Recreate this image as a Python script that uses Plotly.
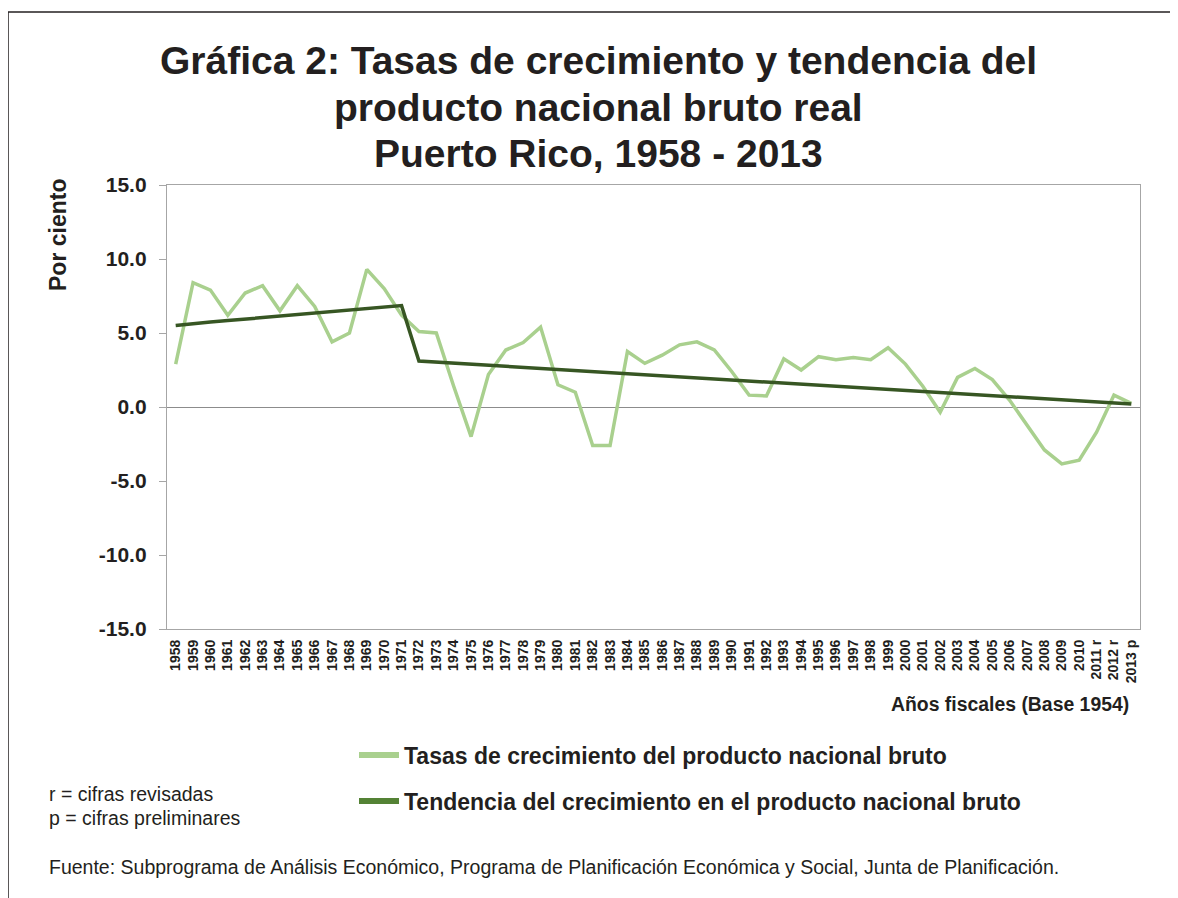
import plotly.graph_objects as go

# ---------------- data ----------------
years = [str(y) for y in range(1958, 2011)] + ["2011 r", "2012 r", "2013 p"]

growth = [2.9, 8.4, 7.9, 6.2, 7.7, 8.2, 6.5, 8.2, 6.8, 4.4,
          5.0, 9.3, 8.0, 6.2, 5.1, 5.0, 1.4, -2.0, 2.2, 3.85,
          4.35, 5.4, 1.5, 1.0, -2.6, -2.6, 3.75, 2.95, 3.5, 4.2,
          4.4, 3.85, 2.4, 0.8, 0.75, 3.25, 2.5, 3.4, 3.2, 3.35,
          3.2, 4.0, 2.9, 1.4, -0.35, 2.0, 2.6, 1.85, 0.45, -1.2,
          -2.9, -3.85, -3.6, -1.7, 0.8, 0.25]

trend = [5.50, 5.65, 5.75, 5.84, 5.94, 6.04, 6.14, 6.24, 6.34, 6.44,
         6.54, 6.64, 6.74, 6.85, 3.10, 3.03, 2.96, 2.89, 2.82, 2.75,
         2.68, 2.60, 2.53, 2.46, 2.39, 2.32, 2.25, 2.18, 2.11, 2.04,
         1.97, 1.90, 1.83, 1.76, 1.69, 1.62, 1.55, 1.48, 1.40, 1.33,
         1.26, 1.19, 1.12, 1.05, 0.98, 0.91, 0.84, 0.77, 0.70, 0.63,
         0.56, 0.49, 0.42, 0.35, 0.28, 0.20]

y_ticks = [-15, -10, -5, 0, 5, 10, 15]
y_tick_labels = ["-15.0", "-10.0", "-5.0", "0.0", "5.0", "10.0", "15.0"]

series_names = ["Tasas de crecimiento del producto nacional bruto",
                "Tendencia del crecimiento en el producto nacional bruto"]

title_lines = ["Gráfica 2: Tasas de crecimiento y tendencia del",
               "producto nacional bruto real",
               "Puerto Rico, 1958 - 2013"]

# ---------------- layout geometry ----------------
# The page body has an 8px default margin; the figure is sized so it ends
# exactly at the window edge. All positions below are in page pixels.
OFF = 8
PAGE_W, PAGE_H = 1178, 898
W, H = PAGE_W - OFF, PAGE_H - OFF
L, R, T, B = 167, 1140, 185, 629      # plot area in page pixels


def px(xp):
    return (xp - L) / (R - L)


def py(yp):
    return (B - yp) / (B - T)


FONT = "Liberation Sans, Arial, sans-serif"
TXT = "#231f20"
LIGHT = "#a9d08e"
DARK_LINE = "#375623"
DARK_LEG = "#548235"

fig = go.Figure()

fig.add_trace(go.Scatter(x=years, y=growth, mode="lines",
                         line=dict(color=LIGHT, width=3.5),
                         showlegend=False, hoverinfo="skip"))
fig.add_trace(go.Scatter(x=years, y=trend, mode="lines",
                         line=dict(color=DARK_LINE, width=3.5),
                         showlegend=False, hoverinfo="skip"))

# legend entries
fig.add_trace(go.Scatter(x=[None], y=[None], mode="lines",
                         line=dict(color=LIGHT, width=6),
                         name=series_names[0], legend="legend"))
fig.add_trace(go.Scatter(x=[None], y=[None], mode="lines",
                         line=dict(color=DARK_LEG, width=6),
                         name=series_names[1], legend="legend2"))

legend_common = dict(xanchor="left", yanchor="middle",
                     font=dict(family=FONT, size=23, color=TXT, weight="bold"),
                     bgcolor="rgba(0,0,0,0)", borderwidth=0,
                     itemwidth=40)

annotations = []
title_y = [60, 107, 154]
for line, ty in zip(title_lines, title_y):
    annotations.append(dict(text=line, x=px(598), y=py(ty), xref="paper", yref="paper",
                            xanchor="center", yanchor="middle", showarrow=False,
                            font=dict(family=FONT, size=39, color=TXT, weight="bold")))

annotations.append(dict(text="Por ciento", x=px(58), y=py(235), xref="paper", yref="paper",
                        xanchor="center", yanchor="middle", textangle=-90, showarrow=False,
                        font=dict(family=FONT, size=23, color=TXT, weight="bold")))
annotations.append(dict(text="Años fiscales (Base 1954)", x=px(1131), y=py(704),
                        xref="paper", yref="paper", xanchor="right", yanchor="middle",
                        showarrow=False,
                        font=dict(family=FONT, size=19.4, color=TXT, weight="bold")))
annotations.append(dict(text="r = cifras revisadas", x=px(47), y=py(794),
                        xref="paper", yref="paper", xanchor="left", yanchor="middle",
                        showarrow=False, font=dict(family=FONT, size=19.5, color=TXT)))
annotations.append(dict(text="p = cifras preliminares", x=px(47), y=py(818),
                        xref="paper", yref="paper", xanchor="left", yanchor="middle",
                        showarrow=False, font=dict(family=FONT, size=19.5, color=TXT)))
annotations.append(dict(text="Fuente: Subprograma de Análisis Económico, Programa de Planificación "
                             "Económica y Social, Junta de Planificación.",
                        x=px(47), y=py(867), xref="paper", yref="paper",
                        xanchor="left", yanchor="middle", showarrow=False,
                        font=dict(family=FONT, size=19.5, color=TXT)))

shapes = [
    dict(type="line", xref="paper", yref="paper", x0=px(8), x1=px(PAGE_W + 5), y0=py(12), y1=py(12),
         line=dict(color=TXT, width=1.5)),
    dict(type="line", xref="paper", yref="paper", x0=px(8), x1=px(8), y0=py(12), y1=py(PAGE_H + 5),
         line=dict(color=TXT, width=1.5)),
]

fig.update_layout(
    width=W, height=H,
    margin=dict(l=L - OFF, r=PAGE_W - R, t=T - OFF, b=PAGE_H - B, autoexpand=False),
    paper_bgcolor="white", plot_bgcolor="white",
    font=dict(family=FONT, color=TXT),
    legend=dict(x=px(354), y=py(755), **legend_common),
    legend2=dict(x=px(354), y=py(801), **legend_common),
    annotations=annotations,
    shapes=shapes,
    xaxis=dict(type="category", categoryorder="array", categoryarray=years,
               range=[-0.5, len(years) - 0.5],
               tickangle=-90, ticks="", showgrid=False,
               showline=True, linecolor="#a6a6a6", linewidth=1.3, mirror=True,
               tickfont=dict(family=FONT, size=14, color=TXT, weight="bold"),
               ticklabelstandoff=4),
    yaxis=dict(range=[-15, 15], tickvals=y_ticks, ticktext=y_tick_labels,
               showgrid=False, zeroline=True, zerolinecolor="#8c8c8c", zerolinewidth=1.3,
               showline=True, linecolor="#a6a6a6", linewidth=1.3, mirror=True,
               ticks="outside", ticklen=7, tickcolor="#a6a6a6",
               tickfont=dict(family=FONT, size=21, color=TXT, weight="bold"),
               ticklabelstandoff=8),
)

fig.write_html("out.html")
